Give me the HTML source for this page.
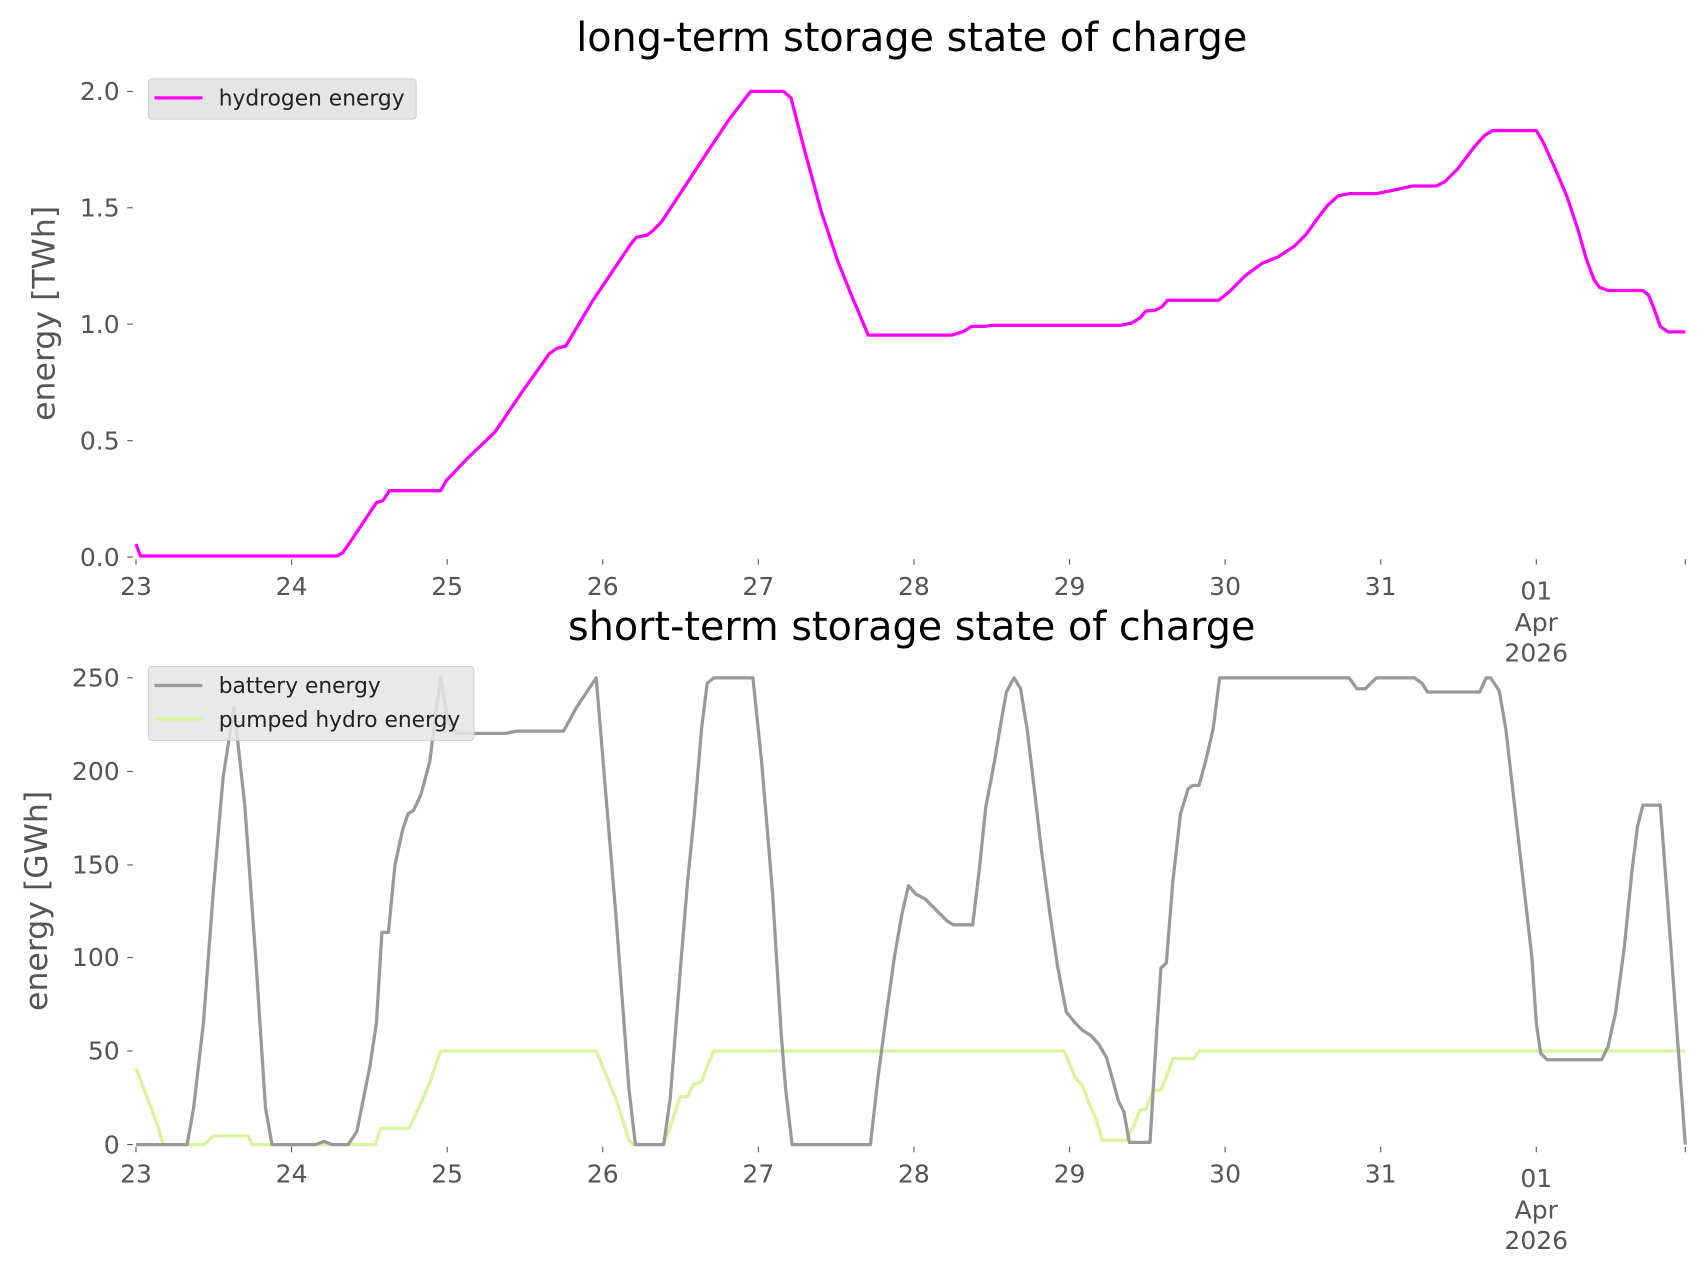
<!DOCTYPE html>
<html><head><meta charset="utf-8"><style>
html,body{margin:0;padding:0;background:#fff;}
svg{display:block;font-family:"DejaVu Sans","Liberation Sans",sans-serif;}
.t{fill:#555;font-size:23px;}
</style></head><body>
<svg width="1706" height="1277" viewBox="0 0 1568 1173.7" xmlns="http://www.w3.org/2000/svg">
<rect width="1568" height="1174" fill="#fff"/>
<!-- TOP -->
<text x="838" y="47" text-anchor="middle" font-size="36.5" fill="#000">long-term storage state of charge</text>
<text transform="translate(50,288) rotate(-90)" text-anchor="middle" font-size="29" fill="#555">energy [TWh]</text>
<g class="t" text-anchor="end">
<text x="110" y="520">0.0</text><text x="110" y="413">0.5</text><text x="110" y="306">1.0</text><text x="110" y="199">1.5</text><text x="110" y="92">2.0</text>
</g>
<g stroke="#555" stroke-width="1">
<path d="M117 512H122M117 405H122M117 298H122M117 191H122M117 84H122"/>
<path d="M125 514v5M268 514v5M411 514v5M554 514v5M697 514v5M840 514v5M983 514v5M1126 514v5M1269 514v5M1412 514v5M1549 514v5"/>
<path d="M117 1052H122M117 966H122M117 880H122M117 795H122M117 709H122M117 623H122"/>
<path d="M125 1054v5M268 1054v5M411 1054v5M554 1054v5M697 1054v5M840 1054v5M983 1054v5M1126 1054v5M1269 1054v5M1412 1054v5M1549 1054v5"/>
</g>
<g class="t" text-anchor="middle">
<text x="125" y="547">23</text><text x="268" y="547">24</text><text x="411" y="547">25</text><text x="554" y="547">26</text><text x="697" y="547">27</text><text x="840" y="547">28</text><text x="983" y="547">29</text><text x="1126" y="547">30</text><text x="1269" y="547">31</text><text x="1412" y="551">01</text><text x="1412" y="580">Apr</text><text x="1412" y="608">2026</text>
</g>
<polyline fill="none" stroke="#ff00ff" stroke-width="3" stroke-linejoin="round" points="125,500 129,511 310,511 315,508 322,498 346,462 352,460 358,451 405,451 410,442 430,421 455,397 480,360 505,325 512,320 520,318 545,276 580,224 585,218 595,216 600,212 608,204 650,140 670,110 690,84 720,84 727,90 740,140 755,195 770,240 782,270 798,308 875,308 885,305 893,300 905,300 912,299 1030,299 1040,297 1048,292 1053,286 1062,285 1068,282 1073,276 1120,276 1130,268 1145,253 1160,242 1175,236 1190,226 1200,216 1210,202 1220,189 1230,180 1240,178 1265,178 1280,175 1298,171 1320,171 1328,167 1340,155 1355,135 1365,124 1372,120 1412,120 1418,130 1428,152 1440,180 1450,210 1458,238 1465,257 1470,264 1478,267 1510,267 1515,271 1520,283 1526,300 1533,305 1549,305"/>
<rect x="136.5" y="72.5" width="246" height="37" rx="3" fill="#e5e5e5" stroke="#d0d0d0"/>
<line x1="142" y1="90" x2="186" y2="90" stroke="#ff00ff" stroke-width="3"/>
<text x="201" y="97" font-size="20" fill="#222">hydrogen energy</text>
<!-- BOTTOM -->
<text x="838" y="588" text-anchor="middle" font-size="36.5" fill="#000">short-term storage state of charge</text>
<text transform="translate(43,828) rotate(-90)" text-anchor="middle" font-size="29" fill="#555">energy [GWh]</text>
<g class="t" text-anchor="end">
<text x="110" y="1060">0</text><text x="110" y="974">50</text><text x="110" y="888">100</text><text x="110" y="803">150</text><text x="110" y="717">200</text><text x="110" y="631">250</text>
</g>
<g class="t" text-anchor="middle">
<text x="125" y="1087">23</text><text x="268" y="1087">24</text><text x="411" y="1087">25</text><text x="554" y="1087">26</text><text x="697" y="1087">27</text><text x="840" y="1087">28</text><text x="983" y="1087">29</text><text x="1126" y="1087">30</text><text x="1269" y="1087">31</text><text x="1412" y="1091">01</text><text x="1412" y="1120">Apr</text><text x="1412" y="1148">2026</text>
</g>
<polyline fill="none" stroke="#d8f59a" stroke-width="3" stroke-linejoin="round" points="125,982 135,1008 145,1035 150,1052 188,1052 196,1044 228,1044 232,1052 345,1052 350,1037 376,1037 385,1018 395,995 405,966 548,966 558,990 568,1015 578,1048 582,1052 610,1052 618,1030 625,1008 632,1008 637,997 645,994 650,980 656,966 978,966 984,980 988,990 995,998 1001,1014 1008,1030 1013,1048 1035,1048 1042,1035 1048,1020 1053,1020 1060,1002 1067,1002 1072,990 1078,973 1097,973 1102,966 1549,966"/>
<polyline fill="none" stroke="#999" stroke-width="3" stroke-linejoin="round" points="125,1052 172,1052 178,1018 187,940 196,820 205,715 215,650 225,740 235,880 244,1018 250,1052 290,1052 298,1049 305,1052 320,1052 328,1040 340,980 346,940 351,857 357,857 363,795 370,763 375,748 380,745 387,730 395,700 400,660 405,623 412,665 420,674 465,674 475,672 518,672 530,650 540,635 548,623 556,720 566,840 578,1000 584,1052 610,1052 616,1010 625,895 632,810 638,750 645,668 650,628 656,623 692,623 700,700 710,820 718,950 722,1000 728,1052 800,1052 807,990 815,930 822,880 829,840 835,814 842,822 850,826 860,836 870,846 876,850 894,850 900,800 906,742 914,700 920,664 925,636 932,623 938,633 944,670 950,720 957,780 965,840 972,888 980,930 988,940 995,947 1003,952 1010,960 1017,972 1022,990 1028,1012 1033,1022 1038,1050 1057,1050 1063,950 1067,890 1072,885 1078,810 1085,748 1092,725 1096,722 1102,722 1108,700 1115,670 1121,623 1240,623 1247,633 1255,633 1265,623 1300,623 1307,628 1312,636 1360,636 1366,623 1370,623 1378,635 1384,670 1392,740 1400,810 1408,880 1412,940 1416,968 1422,974 1472,974 1478,962 1485,930 1493,870 1500,800 1505,760 1510,740 1526,740 1532,820 1540,930 1549,1052"/>
<rect x="136.5" y="612.5" width="299" height="68" rx="3" fill="#e5e5e5" fill-opacity="0.85" stroke="#d0d0d0"/>
<line x1="142" y1="630" x2="186" y2="630" stroke="#999" stroke-width="3"/>
<text x="201" y="637" font-size="20" fill="#222">battery energy</text>
<line x1="142" y1="661" x2="186" y2="661" stroke="#d8f59a" stroke-width="3"/>
<text x="201" y="668" font-size="20" fill="#222">pumped hydro energy</text>
</svg>
</body></html>
